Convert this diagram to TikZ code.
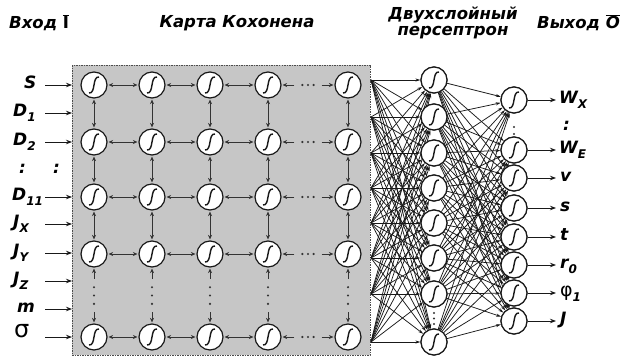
\documentclass[tikz,border=0pt]{standalone}
\usepackage{fontspec}
\setmainfont{DejaVu Sans}
\usetikzlibrary{arrows.meta,calc}

% lowered subscript in the current text font
\newcommand\lsub[1]{\raisebox{-4.5pt}{\fontsize{12}{12}\selectfont #1}}

\tikzset{
  neuron/.style={circle, draw=black!90, line width=1.2pt, fill=white,
    minimum size=26pt, inner sep=0pt,
    path picture={\draw[line width=1.4pt, shift={(path picture bounding box.center)}]
      (-5pt,-8pt) .. controls (2pt,-9pt) and (-2pt,9pt) .. (5pt,8pt);}},
  hdr/.style={font=\fontsize{16.5}{16}\selectfont\bfseries\itshape, inner sep=0pt},
  inl/.style={font=\fontsize{17}{17}\selectfont\bfseries\itshape, inner sep=0pt, anchor=mid west},
  gl/.style={{Stealth[length=4.5pt,width=4pt]}-{Stealth[length=4.5pt,width=4pt]},
    line width=0.85pt, black!80, shorten <=1pt, shorten >=1pt},
  gtip/.style={-{Stealth[length=4.5pt,width=4pt]}, line width=0.85pt, black!80, shorten >=1pt},
  dotmark/.style={fill=black!80},
  ia/.style={-{Stealth[length=6pt,width=4.5pt]}, line width=0.9pt, black!90},
  pl/.style={-{Stealth[length=5pt,width=3pt]}, line width=0.75pt, black!90},
}

\begin{document}
\begin{tikzpicture}[x=1pt,y=-1pt]
\useasboundingbox (0,0) rectangle (624,359);

% ---------- headings ----------
\node[hdr, anchor=west] (hin) at (9,23) {Вход $\overline{\mathbf{I}}$};
\node[hdr] (hmap) at (237,23) {Карта Кохонена};
\node[hdr, align=center] (hmlp) at (453,23) {Двухслойный\\персептрон};
\node[hdr, anchor=west] (hout) at (537,23) {Выход $\overline{\hbox{O}}$};

% ---------- Kohonen map ----------
\fill[gray!45] (72,65) rectangle (370,355);
\draw[black!70, line width=0.8pt, dash pattern=on 1.5pt off 1pt] (72,65) rectangle (370,355);

\foreach \c/\x in {1/94,2/152,3/210,4/268,5/348}
  \foreach \r/\y in {1/85,2/142,3/197,4/254,5/337}
    \node[neuron] (g\r\c) at (\x,\y) {};

% horizontal links
\foreach \r in {1,...,5} {
  \foreach \c [evaluate=\c as \n using int(\c+1)] in {1,2,3}
    \draw[gl] (g\r\c) -- (g\r\n);
  \draw[gtip] ($(g\r4)!0.33!(g\r5)$) -- (g\r4);
  \draw[gtip] ($(g\r4)!0.67!(g\r5)$) -- (g\r5);
  \foreach \f in {0.43,0.5,0.57}
    \fill[dotmark] ($(g\r4)!\f!(g\r5)$) circle (1.2pt);
}
% vertical links
\foreach \c in {1,...,5} {
  \foreach \r [evaluate=\r as \n using int(\r+1)] in {1,2,3}
    \draw[gl] (g\r\c) -- (g\n\c);
  \draw[gtip] ($(g4\c)!0.3!(g5\c)$) -- (g4\c);
  \draw[gtip] ($(g4\c)!0.7!(g5\c)$) -- (g5\c);
  \foreach \f in {0.4,0.5,0.6}
    \fill[dotmark] ($(g4\c)!\f!(g5\c)$) circle (1.2pt);
}

% ---------- inputs ----------
\foreach \k/\y in {1/85,2/113,3/142,4/197,5/224,6/253,7/281,8/309,9/337} {
  \coordinate (a\k) at (45,\y);
  \coordinate (b\k) at (72,\y);
  \draw[ia] (a\k) -- (b\k);
}
\node[inl] (iS)  at (24,86)  {S};
\node[inl] (iD1) at (13,114) {D\lsub{1}};
\node[inl] (iD2) at (13,143) {D\lsub{2}};
\node[inl] (iC1) at (19,171) {:};
\node[inl] (iC2) at (53,171) {:};
\node[inl] (iD3) at (12,198) {D\lsub{11}};
\node[inl] (iJX) at (13,225) {J\lsub{X}};
\node[inl] (iJY) at (13,254) {J\lsub{Y}};
\node[inl] (iJZ) at (13,282) {J\lsub{Z}};
\node[inl] (im)  at (17,310) {m};
\node[inl, font=\fontsize{24}{24}\selectfont] (isg) at (14,335) {σ};

% ---------- two-layer perceptron ----------
\foreach \i/\y in {1/80,2/117,3/153,4/188,5/223,6/258,7/294,8/342} {
  \node[neuron] (h\i) at (434,\y) {};
  \coordinate (s\i) at (371,\y);
}
\foreach \i/\y in {1/100,2/150,3/178,4/208,5/237,6/265,7/293,8/321} {
  \node[neuron] (o\i) at (514,\y) {};
  \coordinate (e\i) at (556,\y);
  \draw[ia] (o\i) -- (e\i);
}
\foreach \i in {1,...,8}
  \foreach \j in {1,...,8} {
    \draw[pl] (s\i) -- (h\j);
    \draw[pl] (h\i) -- (o\j);
  }
% redraw the neurons over the line ends
\foreach \i/\y in {1/80,2/117,3/153,4/188,5/223,6/258,7/294,8/342}
  \node[neuron] at (434,\y) {};
\foreach \i/\y in {1/100,2/150,3/178,4/208,5/237,6/265,7/293,8/321}
  \node[neuron] at (514,\y) {};

\foreach \y in {313,318.5,324} \fill[dotmark] (434,\y) circle (1.2pt);
\foreach \y in {127,134} \fill[dotmark] (514,\y) circle (1.2pt);

% ---------- outputs ----------
\node[inl] (oW1) at (559,101) {W\lsub{X}};
\node[inl] (oC)  at (563,128) {:};
\node[inl] (oW2) at (559,151) {W\lsub{E}};
\node[inl] (ov)  at (560,179) {v};
\node[inl] (os)  at (560,209) {s};
\node[inl] (ot)  at (560,238) {t};
\node[inl] (or)  at (560,266) {r\lsub{0}};
\node[inl] (of)  at (560,294) {{\fontsize{19}{19}\selectfont\mdseries\upshape φ}\lsub{1}};
\node[inl] (oJ)  at (560,322) {J};
\end{tikzpicture}
\end{document}
